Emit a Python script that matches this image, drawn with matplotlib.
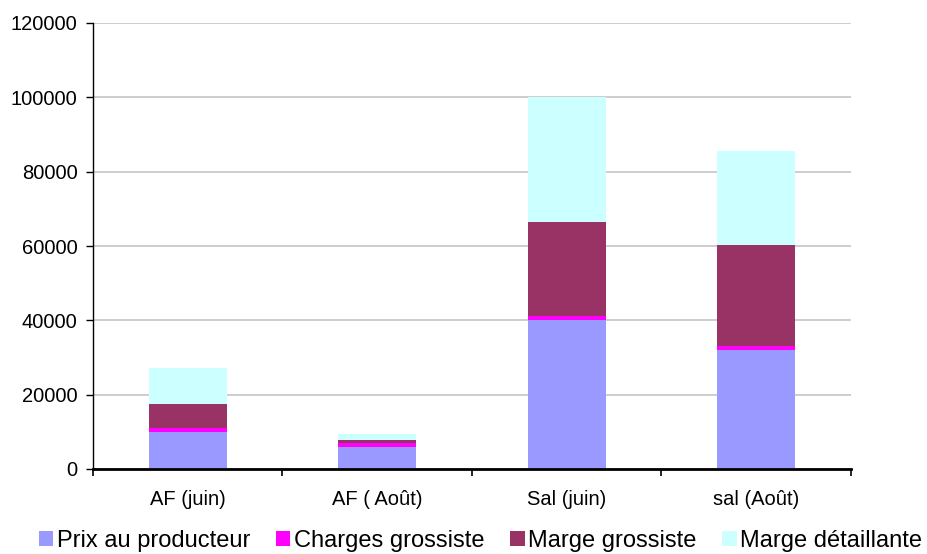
import matplotlib
matplotlib.use("Agg")
import matplotlib.pyplot as plt
import numpy as np

categories = ["AF (juin)", "AF ( Août)", "Sal (juin)", "sal (Août)"]
prix_producteur = [10000, 5900, 40000, 32000]
charges_grossiste = [1100, 1150, 1100, 1100]
marge_grossiste = [6500, 750, 25300, 27200]
marge_detaillante = [9700, 1600, 33600, 25300]

series = [
    ("Prix au producteur", prix_producteur, "#9999FF"),
    ("Charges grossiste", charges_grossiste, "#FF00FF"),
    ("Marge grossiste", marge_grossiste, "#993366"),
    ("Marge détaillante", marge_detaillante, "#CCFFFF"),
]

plt.rcParams['font.family'] = ['Liberation Sans', 'DejaVu Sans']

fig = plt.figure(figsize=(9.28, 5.54), dpi=100)
ax = fig.add_axes([93/928, 1 - 469/554, (851-93)/928, (469-23)/554])

x = np.arange(len(categories))
bottom = np.zeros(len(categories))
handles = []
for name, vals, col in series:
    b = ax.bar(x, vals, width=0.41, bottom=bottom, color=col, label=name, zorder=3, linewidth=0)
    handles.append(b)
    bottom += np.array(vals)

ax.set_xlim(-0.5, len(categories) - 0.5)
ax.set_ylim(0, 120000)
ax.set_yticks(np.arange(0, 120001, 20000))
ax.yaxis.grid(True, color="#C0C0C0", linewidth=1.1, zorder=0)
ax.set_axisbelow(True)

ax.set_xticks(x)
ax.set_xticklabels(categories)
ax.set_xticks(np.arange(-0.5, len(categories), 1.0), minor=True)
ax.tick_params(axis='x', which='major', length=0, pad=15, labelsize=14.5)
ax.tick_params(axis='x', which='minor', length=5, width=1.2, direction='out')
ax.tick_params(axis='y', length=5, width=1.0, pad=6, labelsize=14.5)

for s in ['top', 'right']:
    ax.spines[s].set_visible(False)
ax.spines['left'].set_linewidth(1.0)
ax.spines['bottom'].set_linewidth(2.0)
ax.spines['bottom'].set_zorder(4)

fig.legend(handles=handles, labels=[s[0] for s in series], loc='center',
           bbox_to_anchor=(0.518, 1 - 541/554), ncol=4, frameon=False,
           fontsize=17, handlelength=0.6, handleheight=0.6, handletextpad=0.15,
           columnspacing=1.1, borderaxespad=0)

fig.savefig("out.png", dpi=100)
